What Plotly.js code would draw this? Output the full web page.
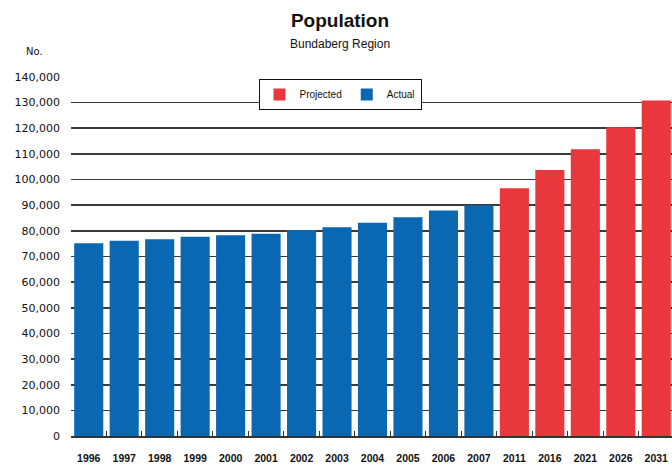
<!DOCTYPE html>
<html>
<head>
<meta charset="utf-8">
<script src="https://cdn.plot.ly/plotly-3.0.1.min.js"></script>
<style>
html,body{margin:0;padding:0;overflow:hidden;background:#fff;}
#chart{width:674px;height:464px;}
</style>
</head>
<body>
<div id="chart"></div>
<script>
// Data
const years = ["1996","1997","1998","1999","2000","2001","2002","2003","2004","2005","2006","2007","2011","2016","2021","2026","2031"];
const actualYears = ["1996","1997","1998","1999","2000","2001","2002","2003","2004","2005","2006","2007"];
const actualValues = [75150, 76150, 76700, 77700, 78250, 78900, 80350, 81400, 83200, 85300, 87900, 90000];
const projectedYears = ["2011","2016","2021","2026","2031"];
const projectedValues = [96600, 103700, 111800, 120400, 130800];
const yTicks = [0,10000,20000,30000,40000,50000,60000,70000,80000,90000,100000,110000,120000,130000,140000];

const traces = [
  {type:'bar', name:'Projected', x:projectedYears, y:projectedValues,
   marker:{color:'#e8373d'}, hoverinfo:'x+y'},
  {type:'bar', name:'Actual', x:actualYears, y:actualValues,
   marker:{color:'#0a68b2'}, hoverinfo:'x+y'}
];

const layout = {
  width:674, height:464,
  margin:{l:71, r:0, t:77, b:28},
  paper_bgcolor:'#fff', plot_bgcolor:'#fff',
  barmode:'overlay', bargap:0.18,
  font:{family:'Liberation Sans, Arial, sans-serif', color:'#111'},
  title:{text:'Population', x:340/674, xref:'container', xanchor:'center',
         y:1-20/464, yref:'container', yanchor:'middle',
         font:{size:19, weight:'bold', color:'#111', family:'Liberation Sans, Arial, sans-serif'}},
  xaxis:{type:'category', categoryorder:'array', categoryarray:years,
         range:[-0.5,16.5], fixedrange:true,
         showline:true, linecolor:'#333', linewidth:1.5,
         ticks:'inside', tickson:'boundaries', ticklen:5, tickcolor:'#333', tickwidth:1,
         showgrid:false,
         tickfont:{size:10.5, weight:'bold', color:'#111', family:'Liberation Sans, Arial, sans-serif'},
         ticklabelstandoff:12},
  yaxis:{range:[0,140000], tickvals:yTicks, tickformat:',d',
         showgrid:true, gridcolor:'#3a3a3a', gridwidth:1.6,
         zeroline:false, showline:false, ticks:'',
         tickfont:{size:11, color:'#111', family:'DejaVu Sans, sans-serif'},
         ticklabelstandoff:10, fixedrange:true},
  showlegend:true,
  legend:{orientation:'h', x:(340-71)/603, xanchor:'center', y:(436-79)/359, yanchor:'top',
          bgcolor:'#fff', bordercolor:'#111', borderwidth:1,
          font:{size:10, color:'#111', family:'Liberation Sans, Arial, sans-serif'},
          itemwidth:30, traceorder:'normal', tracegroupgap:0},
  annotations:[
    {text:'Bundaberg Region', xref:'paper', yref:'paper', x:(340-71)/603, y:1+(77-44)/359,
     xanchor:'center', yanchor:'middle', showarrow:false,
     font:{size:12, color:'#111', family:'Liberation Sans, Arial, sans-serif'}},
    {text:'No.', xref:'paper', yref:'paper', x:(34-71)/603, y:1+(77-52)/359,
     xanchor:'center', yanchor:'middle', showarrow:false,
     font:{size:10, color:'#111', family:'DejaVu Sans, sans-serif'}}
  ]
};

Plotly.newPlot('chart', traces, layout, {displayModeBar:false, staticPlot:true});
</script>
</body>
</html>
